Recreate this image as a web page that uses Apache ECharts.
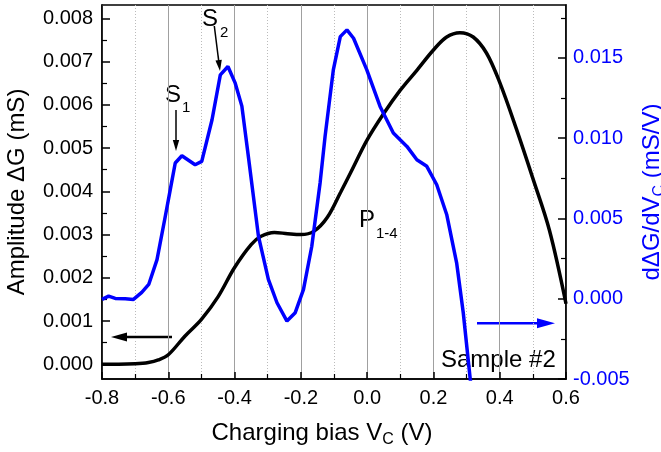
<!DOCTYPE html>
<html lang="en">
<head>
  <meta charset="UTF-8">
  <title>Charging bias</title>
  <script src="https://cdn.jsdelivr.net/npm/echarts@6/dist/echarts.min.js"></script>
  <style>
    body { margin: 0; background: #fff; }
    #chart { width: 661px; height: 452px; }
  </style>
</head>
<body>
  <div id="chart"></div>
  <script>
    // black curve: amplitude dG (left axis)
    var biasBlack = [-0.80, -0.75, -0.70, -0.66, -0.63, -0.60, -0.55, -0.50, -0.45, -0.40, -0.35, -0.32, -0.28, -0.24, -0.20, -0.16, -0.12, -0.08, -0.05, 0.00, 0.05, 0.10, 0.15, 0.20, 0.24, 0.28, 0.32, 0.36, 0.40, 0.45, 0.50, 0.55, 0.60];
    var ampBlack = [0.0000, 0.0000, 0.00001, 0.00004, 0.0001, 0.00022, 0.00065, 0.00104, 0.00156, 0.00224, 0.00277, 0.00296, 0.00305, 0.00302, 0.00300, 0.00308, 0.00340, 0.00398, 0.00443, 0.00519, 0.00580, 0.00634, 0.00680, 0.00727, 0.00757, 0.00767, 0.00757, 0.00720, 0.00652, 0.00545, 0.00430, 0.00310, 0.00140];

    // blue curve: d(dG)/dVc (right axis)
    var biasBlue = [-0.80, -0.78, -0.76, -0.73, -0.705, -0.68, -0.659, -0.634, -0.609, -0.594, -0.579, -0.559, -0.519, -0.499, -0.468, -0.443, -0.42, -0.398, -0.378, -0.358, -0.328, -0.298, -0.272, -0.242, -0.217, -0.192, -0.167, -0.142, -0.127, -0.102, -0.081, -0.061, -0.041, -0.001, 0.039, 0.079, 0.12, 0.15, 0.18, 0.21, 0.24, 0.27, 0.29, 0.311, 0.33];
    var derivBlue = [-0.00004, 0.00016, 0.00002, 0.0, -0.00004, 0.0004, 0.00089, 0.00244, 0.00514, 0.0068, 0.00846, 0.00891, 0.00835, 0.00856, 0.01115, 0.01395, 0.01447, 0.01343, 0.0120, 0.0088, 0.0039, 0.0012, -0.00025, -0.00139, -0.00087, 0.00058, 0.00327, 0.00721, 0.0101, 0.01426, 0.01633, 0.01675, 0.01623, 0.01426, 0.01198, 0.01032, 0.00949, 0.00866, 0.00825, 0.0071, 0.00525, 0.00224, -0.00087, -0.005, -0.008];

    var leftTicks = [0, 0.001, 0.002, 0.003, 0.004, 0.005, 0.006, 0.007, 0.008];
    var leftMinor = [0.0005, 0.0015, 0.0025, 0.0035, 0.0045, 0.0055, 0.0065, 0.0075];
    var rightTicks = [-0.005, 0, 0.005, 0.010, 0.015];
    var rightMinor = [-0.0025, 0.0025, 0.0075, 0.0125, 0.0175];

    var font = 'Arial, "Liberation Sans", sans-serif';
    var blue = '#0000ff';

    function pairs(xs, ys) {
      return xs.map(function (x, i) { return [x, ys[i]]; });
    }

    function arrow(x1, y1, x2, y2, color, width, headLen, headHalf) {
      var dx = x2 - x1, dy = y2 - y1;
      var len = Math.sqrt(dx * dx + dy * dy);
      var ux = dx / len, uy = dy / len;
      var bx = x2 - ux * headLen, by = y2 - uy * headLen;
      return [
        { type: 'line', silent: true, shape: { x1: x1, y1: y1, x2: bx + ux * 2, y2: by + uy * 2 },
          style: { stroke: color, lineWidth: width } },
        { type: 'polygon', silent: true,
          shape: { points: [[x2, y2], [bx - uy * headHalf, by + ux * headHalf], [bx + uy * headHalf, by - ux * headHalf]] },
          style: { fill: color } }
      ];
    }

    function txt(x, y, s, size, color) {
      return { type: 'text', x: x, y: y, silent: true,
        style: { text: s, fill: color || '#000', font: size + 'px ' + font, textAlign: 'left', textVerticalAlign: 'middle' } };
    }

    var leftMin = -0.00034, leftMax = 0.00831;
    var rightMin = -0.005, rightMax = 0.0183;

    var chart = echarts.init(document.getElementById('chart'));

    var yBase = {
      type: 'value',
      splitLine: { show: false },
      axisLine: { onZero: false, lineStyle: { color: '#000', width: 1.5 } }
    };

    var option = {
      animation: false,
      backgroundColor: '#fff',
      grid: { left: 102, top: 5, width: 464, height: 374, containLabel: false, outerBoundsMode: 'none',
        show: true, borderColor: '#000', borderWidth: 1.5, backgroundColor: 'transparent' },
      xAxis: {
        type: 'value', min: -0.8, max: 0.6, interval: 0.2,
        name: '{a|Charging bias V}{s|C}{a| (V)}',
        nameLocation: 'middle', nameGap: 39,
        nameTextStyle: {
          padding: [0, 24, 0, 0],
          rich: {
            a: { fontSize: 24, fontFamily: font, color: '#000' },
            s: { fontSize: 16, fontFamily: font, color: '#000', padding: [14, 0, 0, 0] }
          }
        },
        axisLine: { onZero: false, lineStyle: { color: '#000', width: 1.5 } },
        axisTick: { inside: true, length: 7, lineStyle: { color: '#000', width: 1.5 } },
        minorTick: { show: true, splitNumber: 2, length: 5, lineStyle: { color: '#000', width: 1.2 } },
        axisLabel: { fontSize: 20, fontFamily: font, color: '#000', margin: 9,
          formatter: function (v) { return v.toFixed(1); } },
        splitLine: { show: true, lineStyle: { color: '#a0a0a0', width: 1 } },
        minorSplitLine: { show: true, lineStyle: { color: '#bbbbbb', width: 1, type: [1, 2] } }
      },
      yAxis: [
        Object.assign({}, yBase, {
          position: 'left', min: leftMin, max: leftMax,
          name: 'Amplitude ΔG (mS)', nameLocation: 'middle', nameGap: 73,
          nameTextStyle: { fontSize: 24, fontFamily: font, color: '#000' },
          axisTick: { inside: true, length: 8, customValues: leftTicks, lineStyle: { color: '#000', width: 1.5 } },
          axisLabel: { fontSize: 20, fontFamily: font, color: '#000', margin: 9, customValues: leftTicks,
            formatter: function (v) { return v.toFixed(3); } }
        }),
        Object.assign({}, yBase, {
          position: 'left', min: leftMin, max: leftMax,
          axisLine: { show: false, onZero: false },
          axisTick: { inside: true, length: 5, customValues: leftMinor, lineStyle: { color: '#000', width: 1.2 } },
          axisLabel: { show: false }
        }),
        Object.assign({}, yBase, {
          position: 'right', min: rightMin, max: rightMax,
          name: '{a|dΔG/dV}{s|C}{a| (mS/V)}', nameLocation: 'middle', nameGap: 58,
          nameTextStyle: {
            padding: [0, 0, 12, 0],
            rich: {
              a: { fontSize: 24, fontFamily: font, color: blue },
              s: { fontSize: 16, fontFamily: font, color: blue, padding: [14, 0, 0, 0] }
            }
          },
          axisTick: { inside: true, length: 8, customValues: rightTicks, lineStyle: { color: '#000', width: 1.5 } },
          axisLabel: { fontSize: 20, fontFamily: font, color: blue, margin: 7, customValues: rightTicks,
            formatter: function (v) { return v.toFixed(3); } }
        }),
        Object.assign({}, yBase, {
          position: 'right', min: rightMin, max: rightMax,
          axisLine: { show: false, onZero: false },
          axisTick: { inside: true, length: 5, customValues: rightMinor, lineStyle: { color: '#000', width: 1.2 } },
          axisLabel: { show: false }
        })
      ],
      series: [
        {
          name: 'amplitude', type: 'line', yAxisIndex: 0, showSymbol: false, smooth: 0.35,
          lineStyle: { color: '#000', width: 3.5 },
          data: pairs(biasBlack, ampBlack)
        },
        {
          name: 'derivative', type: 'line', yAxisIndex: 2, showSymbol: false,
          lineStyle: { color: blue, width: 3.5 },
          data: pairs(biasBlue, derivBlue)
        }
      ],
      graphic: [].concat(
        arrow(172, 337, 111, 337, '#000', 2.6, 16, 4.5),
        arrow(477, 323.3, 555, 323.3, blue, 2.6, 18, 5),
        arrow(176, 110, 176, 151, '#000', 1.5, 11, 3.2),
        arrow(214.3, 26, 220, 71, '#000', 1.5, 11, 3.2),
        [
          txt(165, 95, 'S', 24),
          txt(182, 108, '1', 15),
          txt(202, 19, 'S', 24),
          txt(220, 33, '2', 15),
          txt(359, 220, 'P', 24),
          txt(376, 234, '1-4', 15),
          txt(441, 360, 'Sample #2', 24)
        ]
      )
    };

    chart.setOption(option);
  </script>
</body>
</html>
